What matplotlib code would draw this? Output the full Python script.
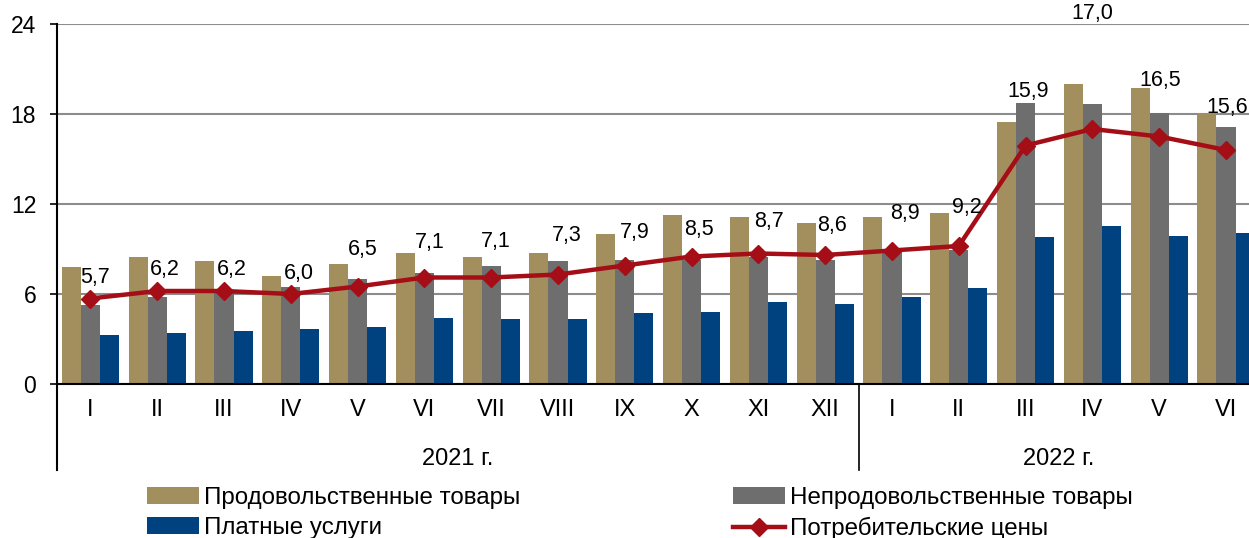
import matplotlib
matplotlib.use('Agg')
import matplotlib.pyplot as plt
from matplotlib.lines import Line2D
import numpy as np

plt.rcParams['font.family'] = ['Liberation Sans', 'DejaVu Sans']

# ---- datos ----
meses = ['I', 'II', 'III', 'IV', 'V', 'VI', 'VII', 'VIII', 'IX', 'X', 'XI', 'XII',
         'I', 'II', 'III', 'IV', 'V', 'VI']
anios = ['2021 г.', '2022 г.']
meses_por_anio = [12, 6]

prod = [7.8, 8.5, 8.2, 7.2, 8.0, 8.75, 8.5, 8.75, 10.0, 11.3, 11.15, 10.75,
        11.15, 11.4, 17.5, 20.0, 19.75, 18.1]
neprod = [5.3, 5.8, 6.3, 6.45, 7.0, 7.4, 7.85, 8.2, 8.3, 8.3, 8.5, 8.3,
          8.8, 8.95, 18.75, 18.7, 18.05, 17.15]
uslugi = [3.25, 3.4, 3.55, 3.7, 3.8, 4.4, 4.35, 4.35, 4.75, 4.8, 5.45, 5.35,
          5.8, 6.4, 9.8, 10.55, 9.9, 10.1]
potreb = [5.7, 6.2, 6.2, 6.0, 6.5, 7.1, 7.1, 7.3, 7.9, 8.5, 8.7, 8.6,
          8.9, 9.2, 15.9, 17.0, 16.5, 15.6]

# desplazamiento de las etiquetas (pixeles)
desp_etiquetas = [(5, 21), (8, 21), (8, 21), (8, 21), (5, 37), (5, 35), (5, 36),
                  (9, 39), (10, 33), (7, 27), (11, 32), (7, 29), (13, 37), (8, 39),
                  (3, 54), (0, 116), (1, 56), (1, 43)]

nombres = ['Продовольственные товары', 'Непродовольственные товары',
           'Платные услуги', 'Потребительские цены']
colores = ['#A38E5E', '#6E6E6E', '#00427F', '#A50E16']

W, H = 1249, 538
fig = plt.figure(figsize=(W / 100, H / 100), dpi=100)
x0, x1 = 57, 57 + 18 * 66.8
y_top, y_zero = 24, 384
ax = fig.add_axes([x0 / W, (H - y_zero) / H, (x1 - x0) / W, (y_zero - y_top) / H])

x = np.arange(len(meses))
w = 0.285
b1 = ax.bar(x - w, prod, w, color=colores[0], zorder=2, label=nombres[0])
b2 = ax.bar(x, neprod, w, color=colores[1], zorder=2, label=nombres[1])
b3 = ax.bar(x + w, uslugi, w, color=colores[2], zorder=2, label=nombres[2])
l1, = ax.plot(x, potreb, color=colores[3], lw=3.2, marker='D', markersize=9,
              zorder=4, label=nombres[3])

for i, v in enumerate(potreb):
    ax.annotate(f'{v:.1f}'.replace('.', ','), (x[i], v), xytext=desp_etiquetas[i],
                textcoords='offset pixels', ha='center', va='center',
                fontsize=15.5, zorder=5)

ax.set_xlim(-0.5, len(meses) - 0.5)
ax.set_ylim(0, 24)
ax.set_yticks([0, 6, 12, 18, 24])
ax.tick_params(axis='y', labelsize=16.5, length=5, width=1.2, direction='out', pad=10)
ax.set_xticks([])
ax.yaxis.grid(True, color='#8C8C8C', lw=1.5, zorder=0)
ax.set_axisbelow(True)
for s in ['top', 'right', 'left']:
    ax.spines[s].set_visible(False)
ax.spines['bottom'].set_linewidth(1.5)
ax.spines['bottom'].set_zorder(3)

# eje izquierdo y separadores del eje de categorias
tr = ax.get_xaxis_transform()
y_bajo = -(470 - y_zero) / (y_zero - y_top)
ax.add_line(Line2D([-0.5, -0.5], [y_bajo, 1], transform=tr, color='black',
                   lw=1.5, clip_on=False))
ax.add_line(Line2D([11.5, 11.5], [y_bajo, 0], transform=tr, color='black',
                   lw=1.2, clip_on=False))

y_mes = -(410 - y_zero) / (y_zero - y_top)
for i, m in enumerate(meses):
    ax.text(x[i], y_mes, m, transform=tr, ha='center', va='center', fontsize=17)

y_anio = -(459 - y_zero) / (y_zero - y_top)
inicio = -0.5
for a, n in zip(anios, meses_por_anio):
    ax.text(inicio + n / 2, y_anio, a, transform=tr, ha='center', va='center',
            fontsize=17)
    inicio += n

fig.legend([b1, b3, b2, l1], [nombres[0], nombres[2], nombres[1], nombres[3]],
           ncol=2, loc='upper left', bbox_to_anchor=(147 / W, 1 - 487 / H),
           frameon=False, fontsize=17.4, handlelength=2.15, handleheight=0.7,
           handletextpad=0.2, columnspacing=8.8, labelspacing=0.33,
           borderpad=0, borderaxespad=0)

fig.savefig('out.png', dpi=100)
